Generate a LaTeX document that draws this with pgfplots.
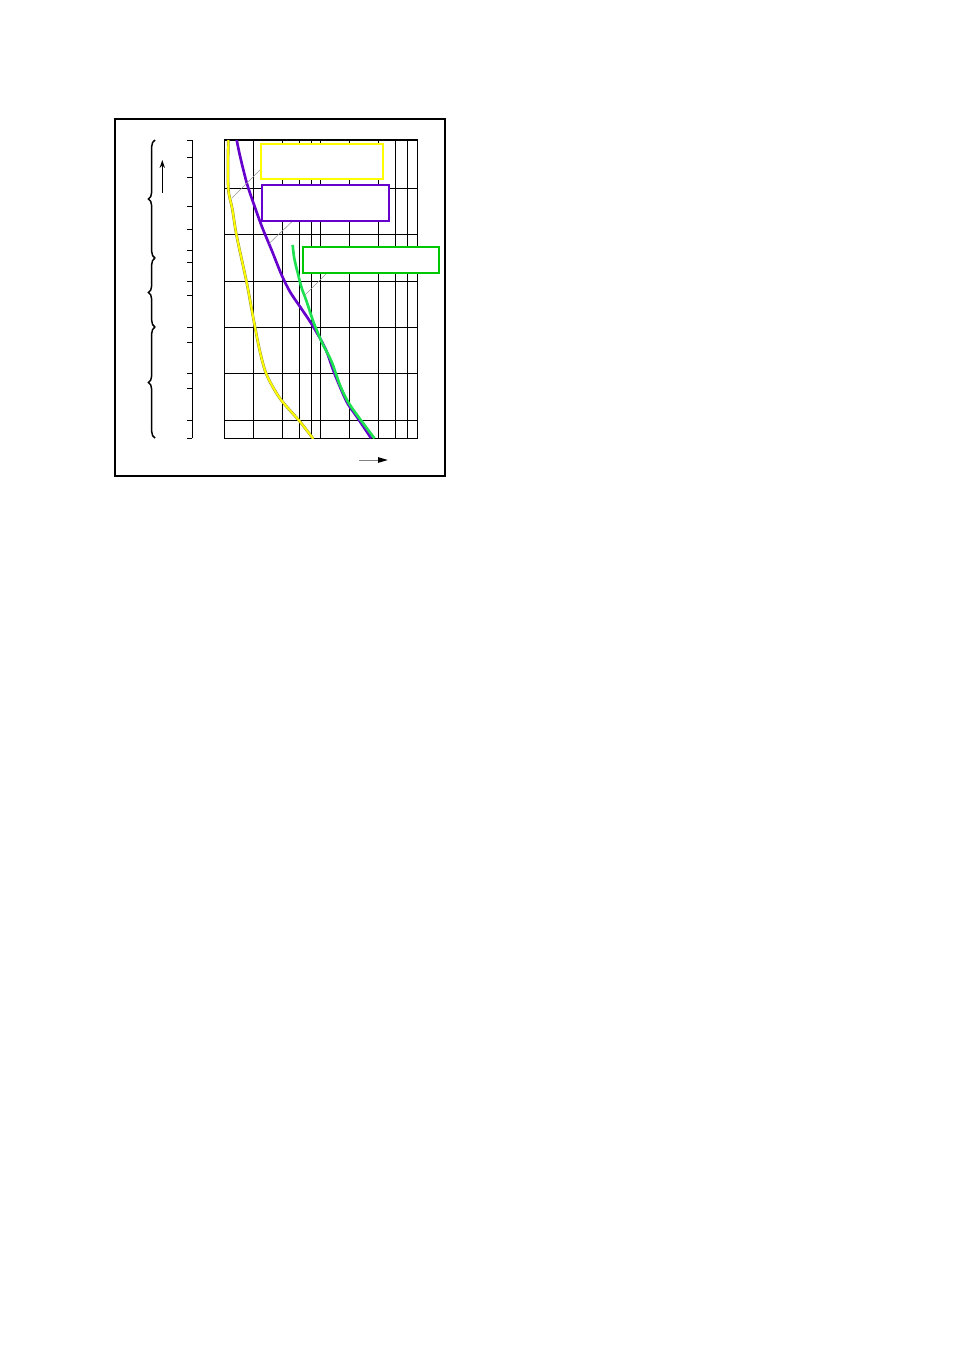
\documentclass[border=0pt]{standalone}
\usepackage{pgfplots}
\pgfplotsset{compat=1.18}
\usetikzlibrary{decorations.pathreplacing,arrows.meta}

\definecolor{cyel}{RGB}{255,255,0}
\definecolor{cyeledge}{RGB}{150,150,60}
\definecolor{cpur}{RGB}{102,0,204}
\definecolor{cgrn}{RGB}{30,225,80}
\definecolor{cgrnbox}{RGB}{0,200,0}

\begin{document}
\begin{tikzpicture}
% page 954x1350 px, 1px = 0.75pt, y downwards negative
\path[use as bounding box] (0,0) rectangle (715.5pt,-1012.5pt);

% outer frame
\draw[line width=1.2pt] (86.25pt,-89.25pt) rectangle (333.75pt,-357pt);

\begin{axis}[
  at={(168.2pt,-328.7pt)}, anchor=south west,
  scale only axis,
  width=144.75pt, height=223.7pt,
  xmode=log, xmin=1, xmax=100,
  ymin=-0.388, ymax=6.041,
  xtick={2,4,6,8,10,20,40,60,80},
  ytick={0,1,2,3,4,5},
  xticklabels={}, yticklabels={},
  major tick length=0pt,
  grid=major,
  major grid style={black, line width=0.8pt},
  axis line style={line width=0.8pt},
]
% yellow curve
\addplot[draw=cyeledge, line width=0.35pt, double=cyel, double distance=1.4pt,
  smooth, tension=0.5] coordinates {
  (1.10,6.04) (1.10,5.01) (1.21,4.56) (1.345,3.97) (1.707,2.97)
  (2.0,2.20) (2.344,1.48) (2.75,0.98) (3.78,0.47) (6.09,-0.03) (8.36,-0.40)
};
% purple curve
\addplot[cpur, line width=2pt, smooth, tension=0.5] coordinates {
  (1.345,6.04) (1.455,5.70) (1.707,5.12) (2.0,4.69) (2.459,4.17)
  (3.121,3.65) (3.934,3.13) (4.796,2.77) (6.087,2.45) (7.73,2.13)
  (9.81,1.77) (11.51,1.48) (14.04,0.98) (18.55,0.40) (23.55,0.08) (33.3,-0.39)
};
% green curve
\addplot[cgrn, line width=2pt, smooth, tension=0.5] coordinates {
  (5.114,3.78) (5.313,3.49) (5.847,3.13) (6.34,2.85) (7.14,2.56)
  (8.36,2.13) (10.22,1.69) (12.97,1.26) (15.81,0.76) (20.07,0.33) (36.0,-0.39)
};
\end{axis}

% left scale
\begin{axis}[
  at={(144.2pt,-328.7pt)}, anchor=south west,
  scale only axis,
  width=10pt, height=223.7pt,
  xmin=0, xmax=1,
  ymin=-0.388, ymax=6.041,
  axis x line=none,
  axis y line*=left,
  ytick={-0.385,0,0.68,1.0,1.68,2.0,2.68,3.0,3.40,3.66,4.11,4.61,5.24,5.67,6.035},
  yticklabels={},
  tick align=outside,
  major tick length=3.75pt,
  every tick/.style={black, line width=0.8pt},
  axis line style={line width=0.8pt},
]
\end{axis}

% leader lines
\draw[gray!80, line width=0.45pt] (195.5pt,-127pt) -- (173.8pt,-148.7pt);
\draw[gray!80, line width=0.45pt] (219.5pt,-165.75pt) -- (202pt,-182.5pt);
\draw[gray!80, line width=0.45pt] (245pt,-205pt) -- (228.75pt,-221.25pt);

% annotation boxes
\draw[cyel, fill=white, line width=1.5pt] (195.5pt,-108.2pt) rectangle (287.5pt,-134.5pt);
\draw[cpur, fill=white, line width=1.5pt] (196.3pt,-138.5pt) rectangle (291.75pt,-165.75pt);
\draw[cgrnbox, fill=white, line width=1.5pt] (227pt,-185.5pt) rectangle (329pt,-205pt);

% braces
\draw[line width=1.1pt, decorate, decoration={brace, amplitude=5pt}]
  (116.25pt,-193.5pt) -- (116.25pt,-105pt);
\draw[line width=1.1pt, decorate, decoration={brace, amplitude=5pt}]
  (116.25pt,-245.25pt) -- (116.25pt,-193.5pt);
\draw[line width=1.1pt, decorate, decoration={brace, amplitude=5pt}]
  (116.25pt,-328.5pt) -- (116.25pt,-245.25pt);

% up arrow
\draw[line width=0.8pt, -{Stealth[length=6pt,width=4pt]}]
  (121.7pt,-144.75pt) -- (121.7pt,-120pt);

% right arrow
\draw[gray, line width=0.4pt] (269.5pt,-345pt) -- (284pt,-345pt);
\fill[black] (290.8pt,-345pt) -- (283.5pt,-342.8pt) -- (283.5pt,-347.2pt) -- cycle;
\end{tikzpicture}
\end{document}
